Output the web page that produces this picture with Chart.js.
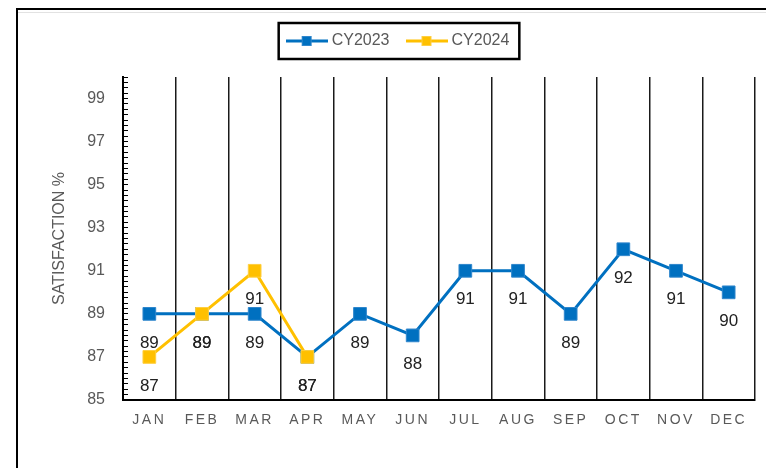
<!DOCTYPE html>
<html>
<head>
<meta charset="utf-8">
<script src="https://cdn.jsdelivr.net/npm/chart.js@4.4.1/dist/chart.umd.min.js"></script>
<style>
  html, body { margin: 0; padding: 0; background: #fff; }
  #wrap { position: relative; width: 766px; height: 468px; overflow: hidden; }
  #sheet { position: absolute; left: 18px; top: 12px; width: 760px; height: 1px; background: #e2e2e2; }
  #frame { position: absolute; left: 16px; top: 8px; width: 800px; height: 500px;
           border-left: 2.5px solid #000; border-top: 2.5px solid #000; box-sizing: border-box; }
  canvas { position: absolute; left: 0; top: 0; }
</style>
</head>
<body>
<div id="wrap">
  <div id="sheet"></div>
  <div id="frame"></div>
  <canvas id="chart" width="766" height="468"></canvas>
</div>
<script>
const months = ["JAN", "FEB", "MAR", "APR", "MAY", "JUN", "JUL", "AUG", "SEP", "OCT", "NOV", "DEC"];
const cy2023 = [89, 89, 89, 87, 89, 88, 91, 91, 89, 92, 91, 90];
const cy2024 = [87, 89, 91, 87, null, null, null, null, null, null, null, null];
const yMin = 85;
const yMax = 100;

const BLUE = "#0070C0";
const GOLD = "#FFC000";
const GREY = "#595959";

Chart.defaults.font.family = '"Liberation Sans", Arial, sans-serif';

function legendSymbol(color, edge) {
    const c = document.createElement("canvas");
    c.width = 42;
    c.height = 14;
    const g = c.getContext("2d");
    g.strokeStyle = color;
    g.lineWidth = 3;
    g.beginPath();
    g.moveTo(0, 7);
    g.lineTo(42, 7);
    g.stroke();
    g.fillStyle = color;
    g.fillRect(16, 2, 10, 10);
    g.strokeStyle = edge;
    g.lineWidth = 1;
    g.strokeRect(16.5, 2.5, 9, 9);
    return c;
}
const symbols = [legendSymbol(BLUE, "#2f86cc"), legendSymbol(GOLD, "#ffcf40")];

// extra space between legend and plot
const legendGap = {
    id: "legendGap",
    beforeLayout(chart) {
        const lg = chart.legend;
        if (lg && !lg._gapPatched) {
            const fit = lg.fit;
            lg.fit = function () { fit.call(this); this.height += 18; };
            lg._gapPatched = true;
        }
    }
};

const valueLabels = {
    id: "valueLabels",
    afterDatasetsDraw(chart) {
        const ctx = chart.ctx;
        ctx.save();
        ctx.font = '17px "Liberation Sans", Arial, sans-serif';
        ctx.fillStyle = "#222";
        ctx.textAlign = "center";
        ctx.textBaseline = "middle";
        chart.data.datasets.forEach((ds, i) => {
            chart.getDatasetMeta(i).data.forEach((pt, j) => {
                const v = ds.data[j];
                if (v === null || v === undefined) return;
                ctx.fillText(String(v), pt.x, pt.y + 29);
            });
        });
        ctx.restore();
        // month labels are drawn after this, spaced out
        ctx.letterSpacing = "2.5px";
    },
    afterDraw(chart) {
        const ctx = chart.ctx;
        ctx.letterSpacing = "0px";
        const hb = chart.legend.legendHitBoxes;
        if (!hb || !hb.length) return;
        const l = Math.min(...hb.map(b => b.left)) - 11;
        const r = Math.max(...hb.map(b => b.left + b.width)) + 10;
        const t = hb[0].top - 10;
        const b = hb[0].top + hb[0].height + 10;
        ctx.save();
        ctx.strokeStyle = "#000";
        ctx.lineWidth = 2.5;
        ctx.strokeRect(l, t, r - l, b - t);
        ctx.restore();
    }
};

const ctx = document.getElementById("chart").getContext("2d");
new Chart(ctx, {
    type: "line",
    data: {
        labels: months,
        datasets: [
            {
                label: "CY2023",
                data: cy2023,
                order: 1,
                borderColor: BLUE,
                backgroundColor: BLUE,
                borderWidth: 3,
                pointStyle: "rect",
                pointRadius: 9,
                pointBorderWidth: 1,
                pointBorderColor: "#2f86cc",
                pointBackgroundColor: BLUE,
                tension: 0
            },
            {
                label: "CY2024",
                data: cy2024,
                order: 0,
                borderColor: GOLD,
                backgroundColor: GOLD,
                borderWidth: 3,
                pointStyle: "rect",
                pointRadius: 9,
                pointBorderWidth: 1,
                pointBorderColor: "#ffcf40",
                pointBackgroundColor: GOLD,
                tension: 0
            }
        ]
    },
    options: {
        responsive: false,
        animation: false,
        layout: { padding: { top: 13, left: 44, right: 11, bottom: 0 } },
        plugins: {
            legend: {
                position: "top",
                labels: {
                    color: GREY,
                    font: { size: 16 },
                    usePointStyle: true,
                    pointStyleWidth: 34,
                    padding: 20,
                    generateLabels(chart) {
                        const items = Chart.defaults.plugins.legend.labels.generateLabels(chart);
                        items.sort((a, b) => a.datasetIndex - b.datasetIndex);
                        items.forEach(it => { it.pointStyle = symbols[it.datasetIndex]; });
                        return items;
                    }
                }
            },
            tooltip: { enabled: false }
        },
        scales: {
            x: {
                type: "category",
                offset: true,
                grid: {
                    offset: true,
                    color: "#1a1a1a",
                    lineWidth: 1.5,
                    drawTicks: false
                },
                border: { display: true, color: "#000", width: 2 },
                ticks: {
                    color: GREY,
                    font: { size: 14 },
                    padding: 12,
                    z: 1
                },
                afterFit(scale) { scale.height = 68; }
            },
            y: {
                min: yMin,
                max: yMax,
                grid: {
                    drawOnChartArea: false,
                    drawTicks: true,
                    tickLength: -5,
                    tickColor: "#000",
                    tickWidth: 1
                },
                border: { display: true, color: "#000", width: 2 },
                ticks: {
                    stepSize: 0.25,
                    autoSkip: false,
                    color: GREY,
                    font: { size: 16 },
                    padding: 23,
                    callback: v => (Math.abs((v % 2) - 1) < 1e-6 ? String(v) : "")
                },
                title: {
                    display: true,
                    text: "SATISFACTION %",
                    color: GREY,
                    font: { size: 16 },
                    padding: { top: 6, bottom: 0 }
                },
                afterFit(scale) { scale.width = 79; }
            }
        }
    },
    plugins: [legendGap, valueLabels]
});
</script>
</body>
</html>
